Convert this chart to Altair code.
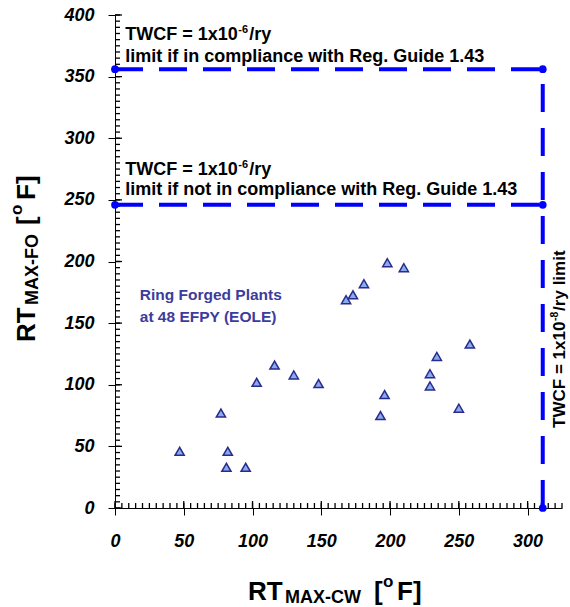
import altair as alt
import pandas as pd

# ---- data ----
rt_max_cw = [47, 77, 82, 81, 95, 103, 116, 130, 148, 168, 173, 181, 198, 210, 193, 196, 229, 229, 234, 250, 258]
rt_max_fo = [46, 77, 46, 33, 33, 102, 116, 108, 101, 169, 173, 182, 199, 195, 75, 92, 109, 99, 123, 81, 133]

x_major = [0, 50, 100, 150, 200, 250, 300]
y_major = [0, 50, 100, 150, 200, 250, 300, 350, 400]
x_minor = list(range(0, 326, 5))
y_minor = list(range(0, 401, 5))

limit_in_rg = 356      # TWCF 1e-6 limit, in compliance with RG 1.43
limit_not_rg = 246     # TWCF 1e-6 limit, not in compliance
limit_cw = 311         # TWCF 1e-8 limit on RT_MAX-CW

W, H = 447, 493
FONT = "Liberation Sans"
BLUE = "#0000ff"

xs = alt.Scale(domain=[0, 325], nice=False, zero=False)
ys = alt.Scale(domain=[0, 400], nice=False, zero=False)
xaxis = alt.Axis(values=x_major, title=None, grid=False, tickSize=7, tickColor="black",
                 domainColor="black", labelFont=FONT, labelFontSize=18, labelFontStyle="italic",
                 labelFontWeight="bold", labelColor="black", labelPadding=17, labelFlush=False)
yaxis = alt.Axis(values=y_major, title=None, grid=False, tickSize=7, tickColor="black",
                 domainColor="black", labelFont=FONT, labelFontSize=18, labelFontStyle="italic",
                 labelFontWeight="bold", labelColor="black", labelPadding=14, labelFlush=False)


def X(f):
    return alt.X(f, type="quantitative", scale=xs, axis=xaxis)


def Y(f):
    return alt.Y(f, type="quantitative", scale=ys, axis=yaxis)


pts = pd.DataFrame({"cw": rt_max_cw, "fo": rt_max_fo})
points = alt.Chart(pts).mark_point(shape="triangle-up", filled=True, fill="#86abef",
                                   stroke="#2b2b8c", strokeWidth=1.5, size=85, opacity=1).encode(
    x=X("cw"), y=Y("fo"))

# inward ticks
ymin_df = pd.DataFrame({"v": y_minor})
ymaj_df = pd.DataFrame({"v": y_major})
xmin_df = pd.DataFrame({"v": x_minor})
xmaj_df = pd.DataFrame({"v": x_major})
tick_y_minor = alt.Chart(ymin_df).mark_tick(orient="horizontal", color="black", thickness=1.3,
                                            size=5, opacity=1).encode(
    y=Y("v"), x=alt.value(2.5))
tick_y_major = alt.Chart(ymaj_df).mark_tick(orient="horizontal", color="black", thickness=1.3,
                                            size=7, opacity=1).encode(
    y=Y("v"), x=alt.value(3.5))
tick_x_minor = alt.Chart(xmin_df).mark_tick(orient="vertical", color="black", thickness=1.3,
                                            size=5, opacity=1).encode(
    x=X("v"), y=alt.value(H - 2.5))
tick_x_major = alt.Chart(xmaj_df).mark_tick(orient="vertical", color="black", thickness=1.3,
                                            size=7, opacity=1).encode(
    x=X("v"), y=alt.value(H - 3.5))

# limit lines
hl = pd.DataFrame({"y": [limit_in_rg, limit_not_rg], "x1": [0, 0], "x2": [limit_cw, limit_cw]})
hlines = alt.Chart(hl).mark_rule(color=BLUE, strokeWidth=4, strokeDash=[28, 16]).encode(
    x=X("x1"), x2="x2", y=Y("y"))
vl = pd.DataFrame({"x": [limit_cw], "y1": [0], "y2": [limit_in_rg]})
vline = alt.Chart(vl).mark_rule(color=BLUE, strokeWidth=4, strokeDash=[28, 16]).encode(
    x=X("x"), y=Y("y1"), y2="y2")
dots_df = pd.DataFrame({"x": [0, limit_cw, 0, limit_cw, limit_cw],
                        "y": [limit_in_rg, limit_in_rg, limit_not_rg, limit_not_rg, 0]})
dots = alt.Chart(dots_df).mark_circle(color=BLUE, size=60, opacity=1).encode(x=X("x"), y=Y("y"))


# annotations
def txt(df, **kw):
    base = dict(align="left", baseline="alphabetic", font=FONT, fontSize=18, fontWeight="bold",
                color="black")
    base.update(kw)
    return alt.Chart(df).mark_text(**base).encode(x=X("x"), y=Y("y"), text="t:N")


ann_main = pd.DataFrame({"x": [7.5, 7.5], "y": [380, 270.5], "t": ["TWCF = 1x10", "TWCF = 1x10"]})
ann_sup = pd.DataFrame({"x": [7.5, 7.5], "y": [380, 270.5], "t": ["-6", "-6"]})
ann_ry = pd.DataFrame({"x": [7.5, 7.5], "y": [380, 270.5], "t": ["/ry", "/ry"]})
ann_l2 = pd.DataFrame({"x": [7.5, 7.5], "y": [362, 254],
                       "t": ["limit if in compliance with Reg. Guide 1.43",
                             "limit if not in compliance with Reg. Guide 1.43"]})
t1 = txt(ann_main)
t2 = txt(ann_sup, fontSize=11, dx=113, dy=-7)
t3 = txt(ann_ry, dx=124)
t4 = txt(ann_l2)

rv_main = pd.DataFrame({"x": [327], "y": [65], "t": ["TWCF = 1x10"]})
rv_sup = pd.DataFrame({"x": [327], "y": [65], "t": ["-8"]})
rv_end = pd.DataFrame({"x": [327], "y": [65], "t": ["/ry limit"]})
r1 = txt(rv_main, angle=270, fontSize=17)
r2 = txt(rv_sup, angle=270, fontSize=10.5, dx=107, dy=-7)
r3 = txt(rv_end, angle=270, fontSize=17, dx=117)

ring = pd.DataFrame({"x": [18, 18], "y": [169, 151], "t": ["Ring Forged Plants", "at 48 EFPY (EOLE)"]})
ring_t = txt(ring, fontSize=15.5, color="#3c3c9c")

# axis titles built from pieces
one = alt.Data(values=[{}])


def piece(text, x, y, size, dx=0, dy=0, angle=0):
    return alt.Chart(one).mark_text(text=text, align="left", baseline="alphabetic", font=FONT,
                                    fontSize=size, fontWeight="bold", color="black",
                                    dx=dx, dy=dy, angle=angle).encode(
        x=alt.value(x), y=alt.value(y))


xt = [piece("RT", 133, 585, 26),
      piece("MAX-CW", 133, 585, 18, dx=37, dy=3),
      piece("[", 133, 585, 26, dx=126),
      piece("o", 133, 585, 17, dx=135, dy=-13),
      piece("F]", 133, 585, 26, dx=149)]
yt = [piece("RT", -80, 327, 26, angle=270),
      piece("MAX-FO", -80, 327, 18, dx=37, dy=3, angle=270),
      piece("[", -80, 327, 26, dx=117, angle=270),
      piece("o", -80, 327, 17, dx=127, dy=-13, angle=270),
      piece("F]", -80, 327, 26, dx=142, angle=270)]

chart = alt.layer(
    tick_y_minor, tick_y_major, tick_x_minor, tick_x_major,
    hlines, vline, dots, points,
    t1, t2, t3, t4, r1, r2, r3, ring_t,
    *xt, *yt
).properties(
    width=W, height=H,
    autosize=alt.AutoSizeParams(type="none"),
    padding={"left": 115, "top": 15, "right": 8, "bottom": 99},
    background="white",
).configure_view(stroke=None)

chart.save("out.html", embed_options={"renderer": "svg", "actions": False})
